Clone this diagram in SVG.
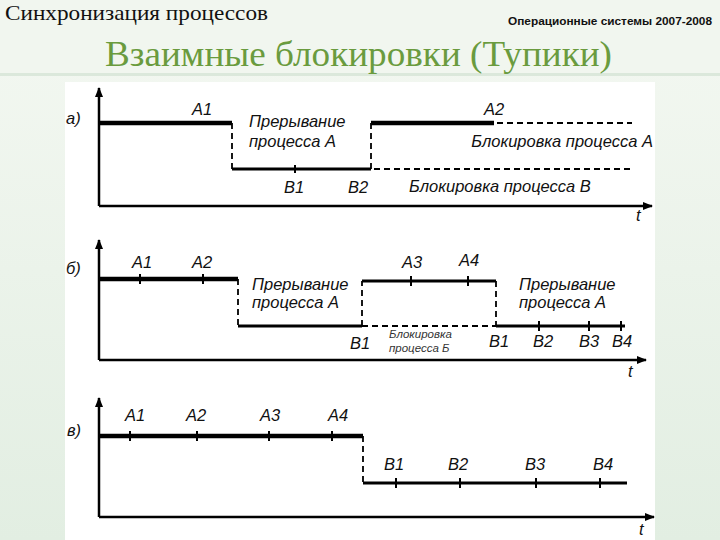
<svg xmlns="http://www.w3.org/2000/svg" width="720" height="540" viewBox="0 0 720 540">
<defs>
<linearGradient id="bg" x1="0" y1="0" x2="0" y2="1">
<stop offset="0" stop-color="#f4f8f2"/>
<stop offset="1" stop-color="#e2eee2"/>
</linearGradient>
<marker id="ar" markerWidth="10" markerHeight="8" refX="9" refY="4" orient="auto" markerUnits="userSpaceOnUse">
<path d="M0,0 L10,4 L0,8 Z" fill="#000"/>
</marker>
<style>
.ax{stroke:#000;stroke-width:2.5;fill:none}
.th{stroke:#000;stroke-width:4.5;fill:none}
.md{stroke:#000;stroke-width:3;fill:none}
.ds{stroke:#000;stroke-width:1.8;fill:none;stroke-dasharray:6 4}
.tk{stroke:#000;stroke-width:2}
.lb{font-family:"Liberation Sans",Arial,sans-serif;font-style:italic;font-size:16.5px;fill:#111}
.sm{font-family:"Liberation Sans",Arial,sans-serif;font-style:italic;font-size:11.5px;fill:#333}
</style>
</defs>
<rect width="720" height="540" fill="url(#bg)"/>
<rect x="0" y="0" width="720" height="74" fill="#f1f6ef"/>
<rect x="0" y="73" width="720" height="3" fill="#dbe8db"/>
<rect x="65" y="82" width="590" height="458" fill="#fff"/>
<text x="5" y="20" font-family="Liberation Serif,serif" font-size="21" fill="#111" textLength="263" lengthAdjust="spacingAndGlyphs">Синхронизация процессов</text>
<text x="712" y="25" text-anchor="end" font-family="Liberation Sans,Arial,sans-serif" font-size="11" font-weight="bold" fill="#111" textLength="204" lengthAdjust="spacingAndGlyphs">Операционные системы 2007-2008</text>
<text x="105" y="66" font-family="Liberation Serif,serif" font-size="36" fill="#6a9b3e" textLength="507" lengthAdjust="spacingAndGlyphs">Взаимные блокировки (Тупики)</text>

<g id="connectors">
<!-- panel a -->
<path class="ax" d="M99,206 L99,88" marker-end="url(#ar)"/>
<path class="ax" d="M99,206 L652,206" marker-end="url(#ar)"/>
<path class="th" d="M99,123 L232,123"/>
<path class="ds" d="M232,123 L232,169"/>
<path class="md" d="M232,169 L371,169"/>
<path class="ds" d="M371,169 L371,123"/>
<path class="th" d="M371,123 L494,123"/>
<path class="ds" d="M497,123 L632,123"/>
<path class="ds" d="M374,169 L634,169"/>
<line class="tk" x1="295" y1="165" x2="295" y2="173"/>
<!-- panel b -->
<path class="ax" d="M99,360 L99,240" marker-end="url(#ar)"/>
<path class="ax" d="M99,360 L646,360" marker-end="url(#ar)"/>
<path class="th" d="M99,279 L238,279"/>
<path class="ds" d="M238,279 L238,326"/>
<path class="md" d="M238,326 L362,326"/>
<path class="ds" d="M362,326 L362,281"/>
<path class="md" d="M362,281 L496,281"/>
<path class="ds" d="M362,326 L496,326"/>
<path class="ds" d="M496,281 L496,326"/>
<path class="md" d="M496,326 L625,326"/>
<line class="tk" x1="140" y1="274" x2="140" y2="284"/>
<line class="tk" x1="203" y1="274" x2="203" y2="284"/>
<line class="tk" x1="411" y1="276" x2="411" y2="286"/>
<line class="tk" x1="468" y1="276" x2="468" y2="286"/>
<line class="tk" x1="539" y1="321" x2="539" y2="331"/>
<line class="tk" x1="589" y1="321" x2="589" y2="331"/>
<line class="tk" x1="621" y1="321" x2="621" y2="331"/>
<!-- panel v -->
<path class="ax" d="M99,517 L99,398" marker-end="url(#ar)"/>
<path class="ax" d="M99,517 L654,517" marker-end="url(#ar)"/>
<path class="th" d="M99,436 L363,436"/>
<path class="ds" d="M363,436 L363,483"/>
<path class="md" d="M363,483 L627,483"/>
<line class="tk" x1="130" y1="431" x2="130" y2="441"/>
<line class="tk" x1="197" y1="431" x2="197" y2="441"/>
<line class="tk" x1="269" y1="431" x2="269" y2="441"/>
<line class="tk" x1="332" y1="431" x2="332" y2="441"/>
<line class="tk" x1="396" y1="478" x2="396" y2="488"/>
<line class="tk" x1="460" y1="478" x2="460" y2="488"/>
<line class="tk" x1="536" y1="478" x2="536" y2="488"/>
<line class="tk" x1="600" y1="478" x2="600" y2="488"/>
</g>

<g id="panel-a">
<text class="lb" x="66" y="124">а)</text>
<text class="lb" x="202" y="115" text-anchor="middle">A1</text>
<text class="lb" x="249" y="127">Прерывание</text>
<text class="lb" x="249" y="147">процесса А</text>
<text class="lb" x="494" y="115" text-anchor="middle">A2</text>
<text class="lb" x="653" y="147" text-anchor="end">Блокировка процесса А</text>
<text class="lb" x="294" y="193" text-anchor="middle">B1</text>
<text class="lb" x="358" y="193" text-anchor="middle">B2</text>
<text class="lb" x="409" y="192">Блокировка процесса В</text>
<text class="lb" x="636" y="221">t</text>
</g>

<g id="panel-b">
<text class="lb" x="66" y="274">б)</text>
<text class="lb" x="142" y="268" text-anchor="middle">A1</text>
<text class="lb" x="202" y="268" text-anchor="middle">A2</text>
<text class="lb" x="252" y="290">Прерывание</text>
<text class="lb" x="252" y="308">процесса А</text>
<text class="lb" x="412" y="268" text-anchor="middle">A3</text>
<text class="lb" x="469" y="266" text-anchor="middle">A4</text>
<text class="lb" x="519" y="290">Прерывание</text>
<text class="lb" x="519" y="308">процесса А</text>
<text class="lb" x="360" y="349" text-anchor="middle">B1</text>
<text class="sm" x="389" y="338">Блокировка</text>
<text class="sm" x="389" y="352">процесса Б</text>
<text class="lb" x="499" y="347" text-anchor="middle">B1</text>
<text class="lb" x="543" y="347" text-anchor="middle">B2</text>
<text class="lb" x="589" y="347" text-anchor="middle">B3</text>
<text class="lb" x="622" y="347" text-anchor="middle">B4</text>
<text class="lb" x="628" y="377">t</text>
</g>

<g id="panel-v">
<text class="lb" x="67" y="436">в)</text>
<text class="lb" x="135" y="421" text-anchor="middle">A1</text>
<text class="lb" x="196" y="421" text-anchor="middle">A2</text>
<text class="lb" x="270" y="421" text-anchor="middle">A3</text>
<text class="lb" x="338" y="421" text-anchor="middle">A4</text>
<text class="lb" x="394" y="470" text-anchor="middle">B1</text>
<text class="lb" x="458" y="470" text-anchor="middle">B2</text>
<text class="lb" x="535" y="470" text-anchor="middle">B3</text>
<text class="lb" x="603" y="470" text-anchor="middle">B4</text>
<text class="lb" x="639" y="535">t</text>
</g>
</svg>
